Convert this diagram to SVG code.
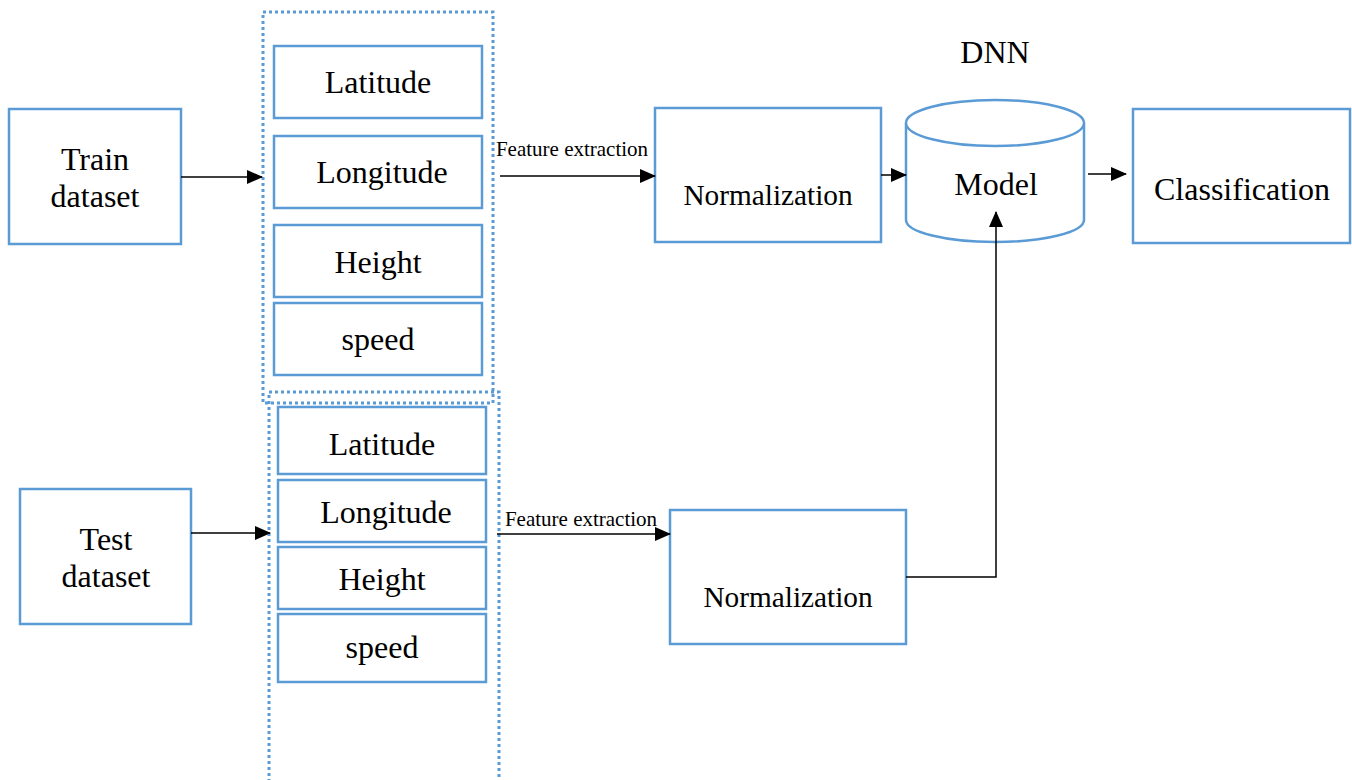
<svg xmlns="http://www.w3.org/2000/svg" width="1352" height="780" viewBox="0 0 1352 780">
<defs>
<marker id="ah" markerWidth="16" markerHeight="14" refX="15" refY="7" orient="auto" markerUnits="userSpaceOnUse">
<path d="M0,0 L16,7 L0,14 Z" fill="#000"/>
</marker>
<style>
.box{fill:#fff;stroke:#5b9bd5;stroke-width:2.5}
.dot{fill:none;stroke:#5b9bd5;stroke-width:3;stroke-dasharray:3,3}
.t{font-family:"Liberation Serif","Times New Roman",serif;font-size:32px;fill:#000;text-anchor:middle}
.n{font-size:29.3px}
.s{font-family:"Liberation Serif","Times New Roman",serif;font-size:21px;fill:#000;text-anchor:middle}
.c{fill:none;stroke:#000;stroke-width:1.5;marker-end:url(#ah)}
</style>
</defs>
<rect width="1352" height="780" fill="#fff"/>
<g id="group-top"><rect class="dot" x="263" y="12" width="230" height="391"/></g>
<g id="group-bottom"><rect class="dot" x="269" y="392" width="230" height="400"/></g>
<g id="train"><rect class="box" x="9" y="109" width="172" height="135"/><text class="t" x="95" y="170">Train</text><text class="t" x="95" y="207">dataset</text></g>
<g id="test"><rect class="box" x="20" y="489" width="171" height="135"/><text class="t" x="106" y="550">Test</text><text class="t" x="106" y="587">dataset</text></g>
<g id="lat1"><rect class="box" x="274" y="46" width="208" height="72"/><text class="t" x="378" y="93">Latitude</text></g>
<g id="lon1"><rect class="box" x="274" y="136" width="208" height="72"/><text class="t" x="382" y="183">Longitude</text></g>
<g id="hei1"><rect class="box" x="274" y="225" width="208" height="72"/><text class="t" x="378" y="273">Height</text></g>
<g id="spd1"><rect class="box" x="274" y="303" width="208" height="72"/><text class="t" x="378" y="350">speed</text></g>
<g id="lat2"><rect class="box" x="278" y="407" width="208" height="67"/><text class="t" x="382" y="455">Latitude</text></g>
<g id="lon2"><rect class="box" x="278" y="480" width="208" height="62"/><text class="t" x="386" y="523">Longitude</text></g>
<g id="hei2"><rect class="box" x="278" y="547" width="208" height="62"/><text class="t" x="382" y="590">Height</text></g>
<g id="spd2"><rect class="box" x="278" y="614" width="208" height="68"/><text class="t" x="382" y="658">speed</text></g>
<g id="norm1"><rect class="box" x="655" y="108" width="226" height="134"/><text class="t n" x="768" y="205">Normalization</text></g>
<g id="norm2"><rect class="box" x="670" y="510" width="236" height="134"/><text class="t n" x="788" y="607">Normalization</text></g>
<g id="model">
<path class="box" d="M906,123 L906,220 A89,22 0 0 0 1084,220 L1084,123"/>
<ellipse class="box" cx="995" cy="123" rx="89" ry="23"/>
<text class="t" x="996" y="195">Model</text>
<text class="t" x="995" y="63">DNN</text>
</g>
<g id="classification"><rect class="box" x="1133" y="109" width="217" height="134"/><text class="t" x="1242" y="200">Classification</text></g>
<g id="connectors">
<line class="c" x1="181" y1="177" x2="262" y2="177"/>
<line class="c" x1="500" y1="176" x2="655" y2="176"/>
<text class="s" x="572" y="156">Feature extraction</text>
<line class="c" x1="881" y1="175" x2="906" y2="175"/>
<line class="c" x1="1088" y1="174" x2="1126" y2="174"/>
<line class="c" x1="191" y1="533" x2="270" y2="533"/>
<line class="c" x1="497" y1="534" x2="670" y2="534"/>
<text class="s" x="581" y="526">Feature extraction</text>
<polyline class="c" points="906,577 996,577 996,212"/>
</g>
</svg>
